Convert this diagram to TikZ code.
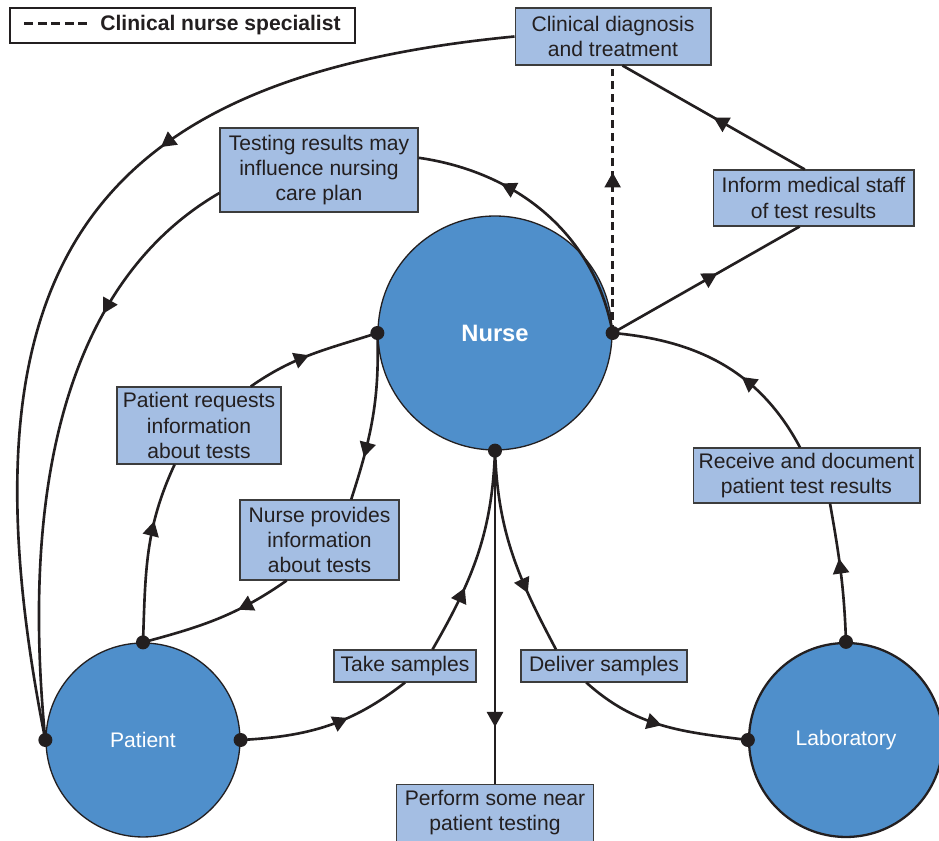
\documentclass[tikz,border=0pt]{standalone}
\usepackage{fontspec}
\setmainfont{Liberation Sans}
\usepackage{tikz}
\usetikzlibrary{arrows.meta,positioning,decorations.markings}
\definecolor{inkdark}{HTML}{231F20}
\definecolor{discblue}{HTML}{4F8FCB}
\definecolor{tagfill}{HTML}{A4BEE3}
\definecolor{tagline}{HTML}{3C3C3C}
\newcommand\legenddash{\rule[3.4pt]{0.18cm}{1.6pt}\hspace{0.09cm}}
\tikzset{
  disc/.style={circle,draw=inkdark,fill=discblue,line width=0.75pt,text=white,inner sep=0pt,font=\fontsize{12}{14}\selectfont},
  tag/.style={draw=tagline,fill=tagfill,line width=0.6pt,text=inkdark,align=center,inner sep=0pt,font=\fontsize{12}{14.4}\selectfont},
  flow/.style={line width=1.5pt,color=inkdark},
  tipat/.style={postaction={decorate},decoration={markings,mark=at position #1 with {\arrow{Triangle[length=3mm,width=3.2mm]}}}},
}

\begin{document}
\begin{tikzpicture}[x=0.02cm,y=0.02cm,
  legendbox/.style={draw=inkdark,fill=white,line width=0.8pt,text=inkdark,inner sep=0pt,font=\fontsize{12}{14}\selectfont\bfseries}]
  \useasboundingbox (0,0) rectangle (939,841);
  \node[disc,minimum size=4.68cm,font=\fontsize{13.5}{16}\selectfont\bfseries] (nurse) at (495,508) {Nurse};
  \node[disc,minimum size=3.88cm] (patient) at (143,101) {Patient};
  \node[disc,minimum size=3.88cm,line width=1.3pt] (lab) at (846,101) {Laboratory};
  \node[legendbox,minimum width=6.9cm,minimum height=0.7cm] (legend) at (182.5,815.5) {\legenddash\legenddash\legenddash\legenddash\legenddash\hspace{0.17cm}Clinical nurse specialist};
  \node[tag,minimum width=3.92cm,minimum height=1.14cm] (dx) at (613,804.5) {Clinical diagnosis\\and treatment};
  \node[tag,minimum width=3.96cm,minimum height=1.68cm] (plan) at (319,671) {Testing results may\\influence nursing\\care plan};
  \node[tag,minimum width=4.02cm,minimum height=1.12cm] (inform) at (813.5,643) {Inform medical staff\\of test results};
  \node[tag,minimum width=3.28cm,minimum height=1.54cm] (req) at (199,415.5) {Patient requests\\information\\about tests};
  \node[tag,minimum width=3.18cm,minimum height=1.6cm] (prov) at (319.5,301) {Nurse provides\\information\\about tests};
  \node[tag,minimum width=4.54cm,minimum height=1.1cm] (recv) at (806.5,365.5) {Receive and document\\patient test results};
  \node[tag,minimum width=2.84cm,minimum height=0.64cm] (take) at (405,175) {Take samples};
  \node[tag,minimum width=3.32cm,minimum height=0.64cm] (deliv) at (604,175) {Deliver samples};
  \node[tag,minimum width=3.94cm,minimum height=1.14cm,below=6.66cm of nurse] (near) {Perform some near\\patient testing};
  \draw[flow,tipat=0.37] (dx.west) .. controls (95,764) and (-50,581) .. (patient.west);
  \draw[flow,tipat=0.28] (plan.193) .. controls (90,573) and (16,401) .. (patient.west);
  \draw[flow,tipat=0.69] (nurse.east) .. controls (595,606) and (518,669) .. (plan.7);
  \draw[flow,dash pattern=on 4.5pt off 2.8pt,tipat=0.6] (nurse.east) -- (nurse.east |- dx.south);
  \draw[flow,tipat=0.56] (nurse.east) -- (inform.244);
  \draw[flow,tipat=0.5] (inform.107) -- (dx.288);
  \draw[flow,tipat=0.6] (lab.north) to[out=92,in=-80] (recv.310);
  \draw[flow,tipat=0.4] (recv.103) to[out=118,in=-5] (nurse.east);
  \draw[flow,tipat=0.67] (patient.north) to[out=88,in=245] (req.238);
  \draw[flow,tipat=0.48] (req.37) to[out=35,in=198] (nurse.west);
  \draw[flow,tipat=0.74] (nurse.west) to[out=-88,in=72] (prov.52);
  \draw[flow,tipat=0.36] (prov.231) to[out=215,in=15] (patient.north);
  \draw[flow,tipat=0.62] (patient.east) to[out=3,in=218] (take.south);
  \draw[flow,tipat=0.33] (take.31) to[out=60,in=-92] (nurse.south);
  \draw[flow,tipat=0.7] (nurse.south) to[out=-88,in=118] (deliv.161);
  \draw[flow,tipat=0.5] (deliv.223) to[out=-42,in=173] (lab.west);
  \draw[flow,tipat=0.83] (nurse.south) -- (near.north);
  \foreach \spot in {nurse.west,nurse.east,nurse.south,patient.north,patient.west,patient.east,lab.north,lab.west}
    \fill[inkdark] (\spot) circle (0.14cm);
\end{tikzpicture}
\end{document}
